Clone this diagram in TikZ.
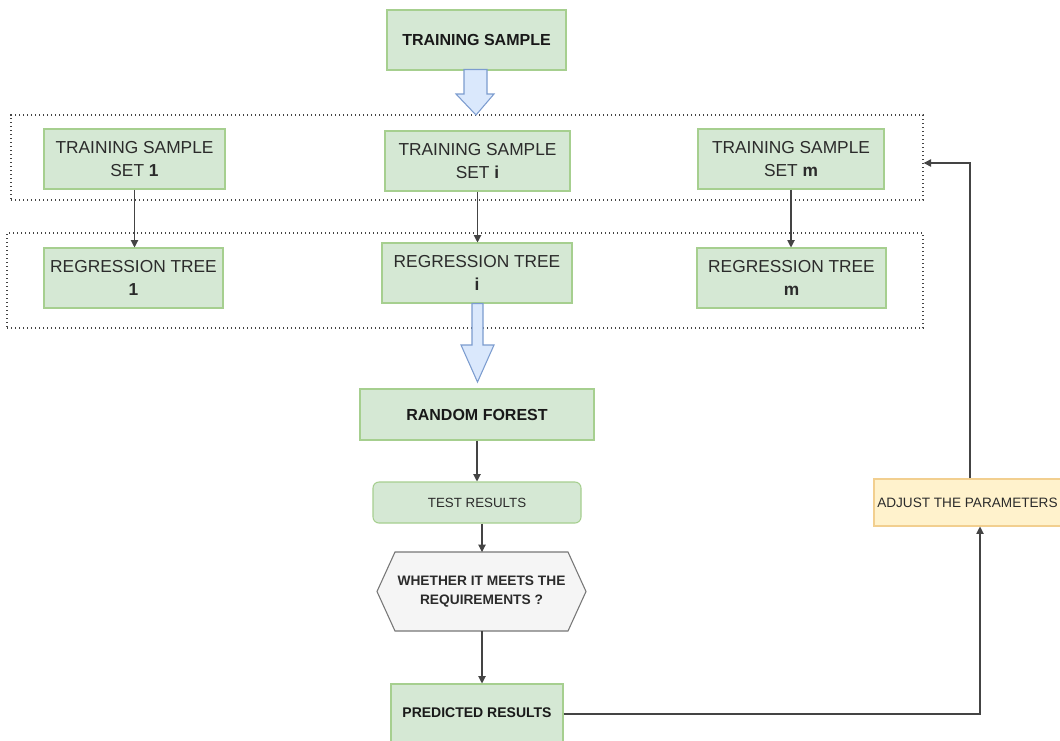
\documentclass[tikz,border=0pt]{standalone}
\usepackage{fontspec}
\setmainfont{Liberation Sans}
\usetikzlibrary{arrows.meta,shapes.geometric,calc}
\definecolor{gfill}{HTML}{D5E8D4}
\definecolor{gdraw}{HTML}{A6CF8F}
\definecolor{bfill}{HTML}{DAE8FC}
\definecolor{bdraw}{HTML}{7C9CCF}
\definecolor{hfill}{HTML}{F5F5F5}
\definecolor{hdraw}{HTML}{777777}
\definecolor{yfill}{HTML}{FFF2CC}
\definecolor{ydraw}{HTML}{F2CF8F}
\definecolor{txt}{HTML}{2B2B2B}
\definecolor{lne}{HTML}{444444}
\tikzset{
  x=0.75pt, y=-0.75pt,
  gbox/.style={draw=gdraw, fill=gfill, line width=0.8pt, inner sep=0pt, align=center, text=txt},
  bigtxt/.style={font=\fontsize{13}{17}\selectfont},
  dotbox/.style={draw=lne, dotted, line width=1pt, inner sep=0pt},
  conn/.style={draw=lne, line width=0.8pt, -{Triangle[length=5.5pt,width=5.5pt]}},
  fat/.style={draw=bdraw, fill=bfill, line width=0.8pt},
}
\begin{document}
\begin{tikzpicture}
\useasboundingbox (0,0) rectangle (1060,740);
\clip (0,0) rectangle (1060,740);
\fill[white] (0,0) rectangle (1060,740);

% dotted groups
\node[dotbox, minimum width=684pt, minimum height=63.75pt] (grp1) at (467,157.5) {};
\node[dotbox, minimum width=687pt, minimum height=71.25pt] (grp2) at (465,280.5) {};

% boxes
\node[gbox, minimum width=134.25pt, minimum height=45pt, font=\fontsize{12}{15}\selectfont\bfseries, text=black!90] (top) at (476.5,40) {TRAINING SAMPLE};

\node[gbox, bigtxt, minimum width=135.75pt, minimum height=45pt] (set1) at (134.5,159) {TRAINING SAMPLE\\SET \textbf{1}};
\node[gbox, bigtxt, minimum width=138.75pt, minimum height=45pt] (seti) at (477.5,161) {TRAINING SAMPLE\\SET \textbf{i}};
\node[gbox, bigtxt, minimum width=139.5pt, minimum height=45pt] (setm) at (791,159) {TRAINING SAMPLE\\SET \textbf{m}};

\node[gbox, bigtxt, minimum width=134.25pt, minimum height=45pt] (tree1) at (133.5,278) {REGRESSION TREE\\\textbf{1}};
\node[gbox, bigtxt, minimum width=142.5pt, minimum height=45pt] (treei) at (477,273) {REGRESSION TREE\\\textbf{i}};
\node[gbox, bigtxt, minimum width=141.75pt, minimum height=45pt] (treem) at (791.5,278) {REGRESSION TREE\\\textbf{m}};

\node[gbox, minimum width=175.5pt, minimum height=38.25pt, font=\fontsize{12}{15}\selectfont\bfseries, text=black!90] (rf) at (477,414.5) {RANDOM FOREST};
\node[gbox, rounded corners=4.5pt, minimum width=156pt, minimum height=30.75pt, font=\fontsize{10}{12}\selectfont] (tr) at (477,502.5) {TEST RESULTS};

% hexagon
\coordinate (hc) at (481.5,591.5);
\draw[draw=hdraw, fill=hfill, line width=0.8pt] (377,591.5) -- (395,552) -- (568,552) -- (586,591.5) -- (568,631) -- (395,631) -- cycle;
\node[align=center, font=\fontsize{10.3}{14}\selectfont\bfseries, text=txt, inner sep=0pt] (hex) at (hc) {WHETHER IT MEETS THE\\REQUIREMENTS ?};

\node[gbox, minimum width=129pt, minimum height=43.5pt, font=\fontsize{10.5}{13}\selectfont\bfseries, text=black!90] (pr) at (477,713) {PREDICTED RESULTS};

\node[draw=ydraw, fill=yfill, line width=0.8pt, minimum width=147pt, minimum height=35.25pt, inner sep=0pt] (adj) at (972,502.5) {};
\node[anchor=west, font=\fontsize{10.2}{12}\selectfont, text=txt, inner sep=0pt] (adjt) at (877,503) {ADJUST THE PARAMETERS};

% big blue arrows
\draw[fat] (464,69.5) -- (464,94) -- (456,94) -- (476,115) -- (494,94) -- (487,94) -- (487,69.5) -- cycle;
\draw[fat] (472,303.5) -- (472,345) -- (461,345) -- (477.5,382) -- (494,345) -- (483,345) -- (483,303.5) -- cycle;

% connectors
\draw[conn] (set1.south) -- (set1.south |- tree1.north);
\draw[conn] (seti.south) -- (seti.south |- treei.north);
\draw[conn] (setm.south) -- (setm.south |- treem.north);
\draw[conn] (rf.south) -- (rf.south |- tr.north);
\draw[conn] ($(tr.south)+(5,0)$) -- (482,552);
\draw[conn] (482,631) -- ($(pr.north)+(5,0)$);

\coordinate (c1) at (980,714);
\coordinate (c2) at (970,163);
\draw[conn] (pr.east |- c1) -- (c1) -- (c1 |- adj.south);
\draw[conn] (c2 |- adj.north) -- (c2) -- (grp1.east |- c2);
\end{tikzpicture}
\end{document}
